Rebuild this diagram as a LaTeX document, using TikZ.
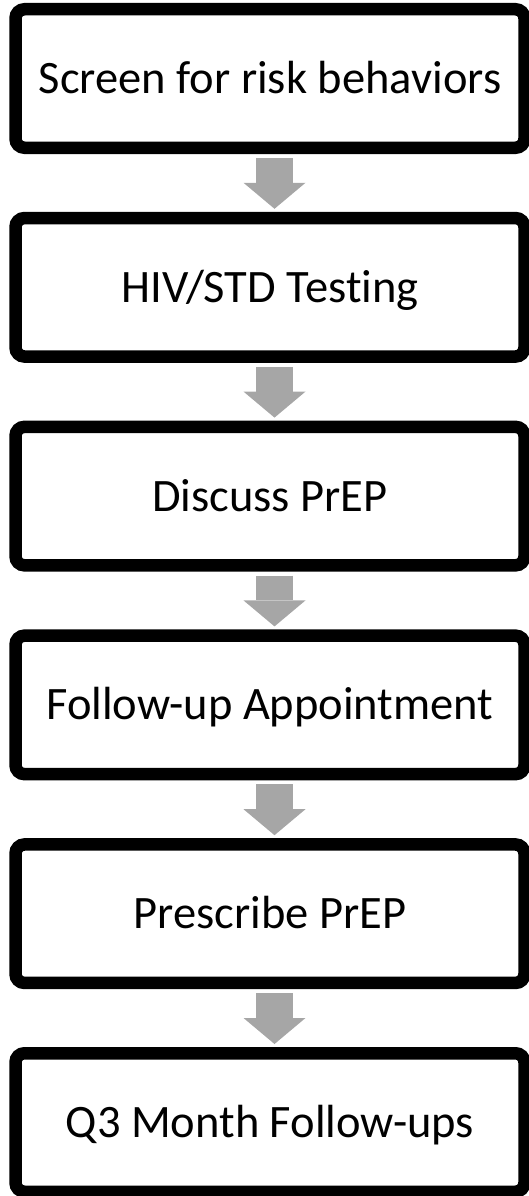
\documentclass[tikz,border=0pt]{standalone}
\usepackage{fontspec}
\setmainfont{Carlito}[Ligatures={NoCommon}]
\usetikzlibrary{arrows.meta}
\definecolor{arrowgray}{HTML}{A6A6A6}
\tikzset{
  stepbox/.style={draw=black, fill=white, line width=12.5pt, rounded corners=9pt,
    minimum width=509pt, minimum height=138.5pt, inner sep=0pt,
    text height=30pt, text depth=0pt,
    font=\fontsize{46.5}{56}\selectfont},
  flowarrow/.style={draw=arrowgray, line width=37pt,
    -{Triangle[width=62pt,length=26pt,line width=0pt]},
    shorten <=4pt, shorten >=3pt}
}
\begin{document}
\begin{tikzpicture}[x=1pt,y=-1pt]
\useasboundingbox (0,0) rectangle (528,1196);
\node[stepbox] (b1) at (270,78.5) {Screen for risk behaviors};
\node[stepbox] (b2) at (270,287.3) {HIV/STD Test\kern0pt ing};
\node[stepbox] (b3) at (270,496.1) {Discuss PrEP};
\node[stepbox] (b4) at (270,704.9) {Follow-up Appointment};
\node[stepbox] (b5) at (270,913.7) {Prescribe PrEP};
\node[stepbox] (b6) at (270,1122.5) {Q3 Month Follow-ups};
\foreach \a/\b in {b1/b2,b2/b3,b3/b4,b4/b5,b5/b6}
  \draw[flowarrow] ([xshift=4.5pt]\a.south) -- ([xshift=4.5pt]\b.north);
\end{tikzpicture}
\end{document}
